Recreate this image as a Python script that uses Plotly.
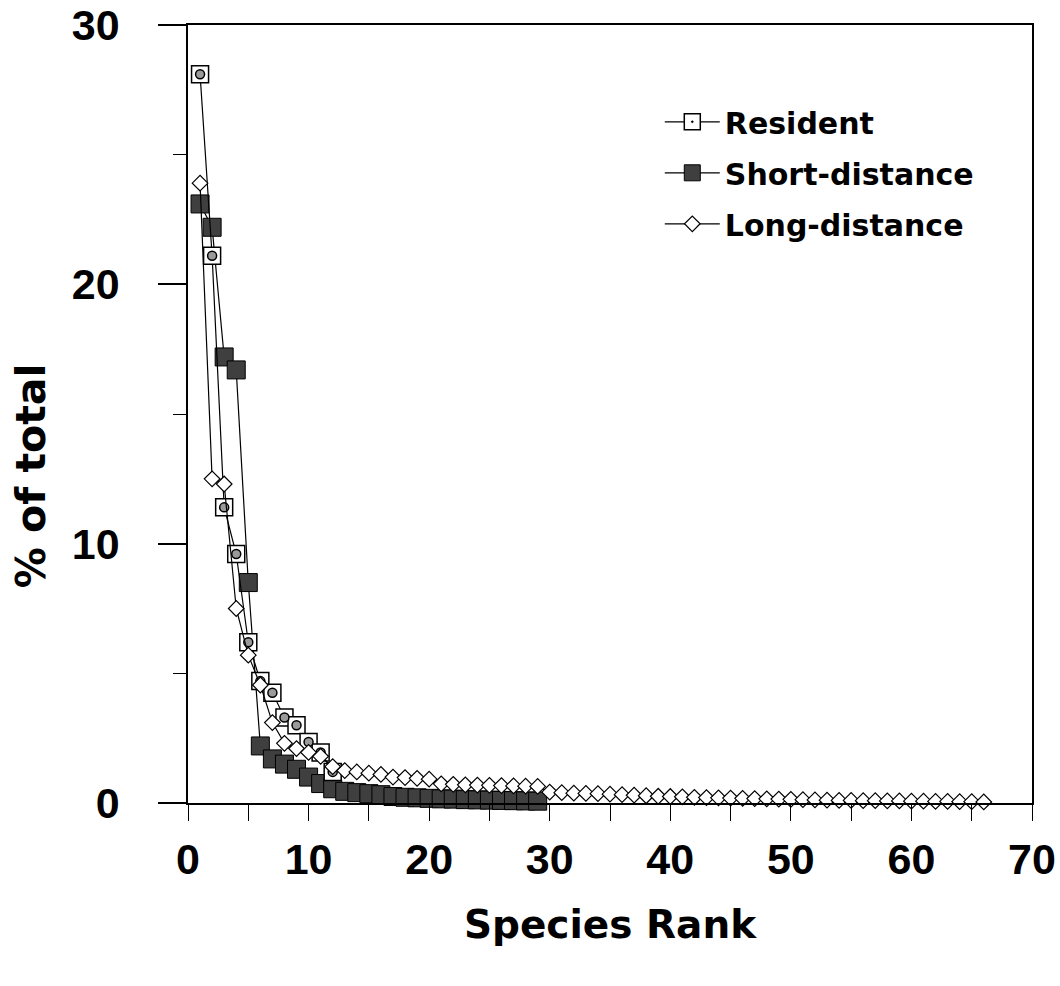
import plotly.graph_objects as go

# ---- data ----
resident_rank = list(range(1, 13))
resident_pct = [28.1, 21.1, 11.4, 9.6, 6.2, 4.7, 4.25, 3.3, 3.0, 2.35, 1.95, 1.2]

short_rank = list(range(1, 30))
short_pct = [23.1, 22.2, 17.2, 16.7, 8.5, 2.2, 1.7, 1.5, 1.3, 1.0,
             0.75, 0.55, 0.45, 0.4, 0.36, 0.32, 0.25, 0.22, 0.2, 0.18,
             0.16, 0.15, 0.13, 0.12, 0.11, 0.1, 0.09, 0.08, 0.07]

long_rank = list(range(1, 67))
long_pct = [23.9, 12.5, 12.3, 7.5, 5.7, 4.55, 3.1, 2.3, 2.1, 1.95,
            1.8, 1.4, 1.25, 1.2, 1.15, 1.1, 1.0, 0.98, 0.95, 0.92,
            0.74, 0.72, 0.7, 0.69, 0.68, 0.67, 0.66, 0.65, 0.64, 0.42,
            0.4, 0.38, 0.37, 0.36, 0.34, 0.32, 0.3, 0.28, 0.26, 0.25,
            0.24, 0.22, 0.21, 0.2, 0.19, 0.18, 0.17, 0.16, 0.15, 0.14,
            0.13, 0.12, 0.11, 0.1, 0.1, 0.09, 0.09, 0.08, 0.08, 0.07,
            0.07, 0.06, 0.06, 0.05, 0.05, 0.04]

x_ticks = [0, 10, 20, 30, 40, 50, 60, 70]
y_ticks = [0, 10, 20, 30]

TICK_FONT = dict(family="Liberation Sans, Arial, sans-serif", size=43, color="black", weight="bold")
LEGEND_FONT = dict(family="DejaVu Sans", size=30, color="black", weight="bold")

fig = go.Figure()

fig.add_trace(go.Scatter(
    x=short_rank, y=short_pct, name="Short-distance", mode="lines+markers",
    line=dict(color="black", width=1.2),
    marker=dict(symbol="square", size=18, color="#3f3f3f", line=dict(color="black", width=1)),
    cliponaxis=False, legendgroup="s", legendrank=2))

fig.add_trace(go.Scatter(
    x=resident_rank, y=resident_pct, name="Resident", mode="lines+markers",
    line=dict(color="black", width=1.2),
    marker=dict(symbol="square-dot", size=17, color="white", line=dict(color="black", width=1.5)),
    cliponaxis=False, legendgroup="r", legendrank=1))

fig.add_trace(go.Scatter(
    x=resident_rank, y=resident_pct, mode="markers", showlegend=False, hoverinfo="skip",
    marker=dict(symbol="circle", size=9, color="#9a9a9a", line=dict(color="black", width=1.5)),
    cliponaxis=False, legendgroup="r"))

fig.add_trace(go.Scatter(
    x=long_rank, y=long_pct, name="Long-distance", mode="lines+markers",
    line=dict(color="black", width=1.2),
    marker=dict(symbol="diamond", size=12, color="white", line=dict(color="black", width=1.2)),
    cliponaxis=False, legendgroup="l", legendrank=3))

fig.update_layout(
    width=1060, height=986,
    margin=dict(l=188, r=28, t=25, b=183, autoexpand=False),
    paper_bgcolor="white", plot_bgcolor="white",
    showlegend=True,
    legend=dict(x=0.559, y=0.909, xanchor="left", yanchor="top",
                font=LEGEND_FONT, itemwidth=55, tracegroupgap=9,
                bgcolor="rgba(0,0,0,0)", traceorder="grouped"),
)

fig.update_xaxes(
    range=[0, 70], tickvals=x_ticks, ticktext=[str(v) for v in x_ticks],
    automargin=False, ticklabeloverflow="allow",
    showgrid=False, zeroline=False,
    showline=True, linecolor="black", linewidth=1.6, mirror=True,
    ticks="outside", ticklen=16, tickwidth=1.4, tickcolor="black",
    minor=dict(dtick=5, tick0=0, ticks="outside", ticklen=16, tickwidth=1.4, tickcolor="black"),
    tickfont=TICK_FONT, ticklabelstandoff=2,
    title=dict(text="Species Rank", font=dict(family="DejaVu Sans", size=39, color="black", weight="bold"),
               standoff=28),
)

fig.update_yaxes(
    range=[0, 30], tickvals=y_ticks, ticktext=[str(v) for v in y_ticks],
    automargin=False, ticklabeloverflow="allow",
    showgrid=False, zeroline=False,
    showline=True, linecolor="black", linewidth=1.6, mirror=True,
    ticks="outside", ticklen=28, tickwidth=1.6, tickcolor="black",
    minor=dict(dtick=5, tick0=0, ticks="outside", ticklen=13, tickwidth=1.4, tickcolor="black"),
    tickfont=TICK_FONT, ticklabelstandoff=30,
)

fig.add_annotation(
    text="% of total", textangle=-90, showarrow=False,
    xref="paper", yref="paper", x=0, y=0.42, xanchor="center", yanchor="middle",
    xshift=-157, font=dict(family="DejaVu Sans", size=41, color="black", weight="bold"))

# remove the browser's default 8px page margin so the figure fills the window exactly
fig.write_html("out.html",
               config={"displayModeBar": False},
               post_script="document.body.style.margin='0';document.body.style.overflow='hidden';")
